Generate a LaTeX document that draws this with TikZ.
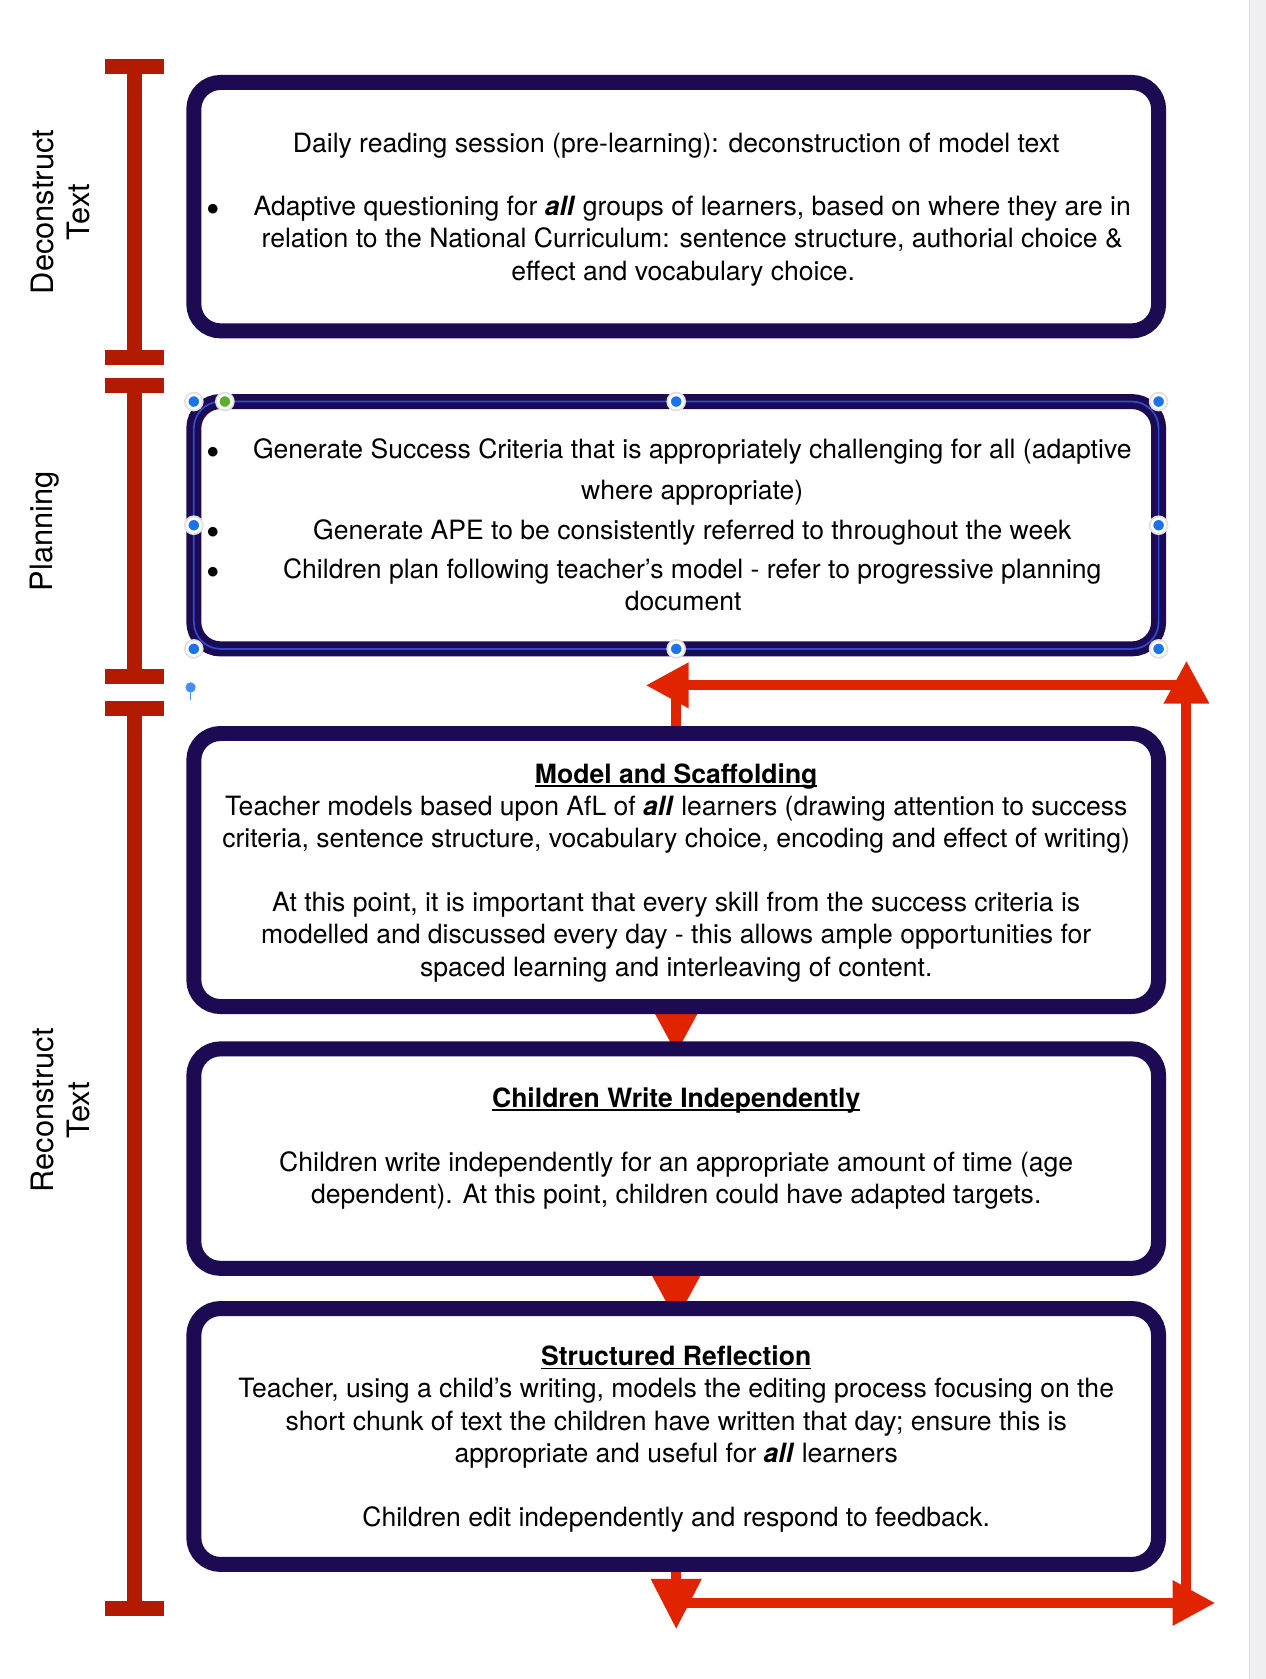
\documentclass[tikz,border=0pt]{standalone}
\usepackage{fontspec}
\setmainfont{TeX Gyre Heros}
\usetikzlibrary{arrows.meta,backgrounds}

\definecolor{boxnavy}{RGB}{28,11,82}
\definecolor{barred}{RGB}{178,26,2}
\definecolor{loopred}{RGB}{224,36,0}
\definecolor{handleblue}{RGB}{26,115,232}
\definecolor{selblue}{RGB}{45,75,208}
\definecolor{handlegreen}{RGB}{93,174,46}
\definecolor{sidegray}{RGB}{239,239,244}

\newcommand{\topstrut}{\rule{0pt}{18pt}}
\newcommand{\botstrut}[1][9pt]{\rule[-#1]{0pt}{#1}}
\newcommand{\ulbox}[1]{\leavevmode\setbox0\hbox{#1}\rlap{\vrule height -1pt depth 1.6pt width \wd0}\box0}
\newcommand{\bulletline}[1]{\makebox[15pt][l]{\hspace{-6pt}\raisebox{-3pt}{\fontsize{18}{15}\selectfont\textbullet}}\makebox[412pt]{#1}\hspace{8.5pt}}
\newcommand{\contline}[1]{\hspace{15pt}\makebox[412pt]{#1}\hspace{8.5pt}}
\newcommand{\allb}{\textbf{\textit{all}}}

\begin{document}
\begin{tikzpicture}[x=0.5pt,y=-0.5pt,
    stagebox/.style={draw=boxnavy, line width=7pt, rounded corners=12.5pt, fill=white,
      minimum width=450.5pt, inner sep=0pt, outer sep=0pt, align=center,
      font=\fontsize{12.4}{15}\selectfont},
    sidelabel/.style={rotate=90, align=center, font=\fontsize{14.4}{17}\selectfont},
    loopline/.style={draw=loopred, line width=4.7pt, -{Triangle[width=20pt,length=20pt]}},
    handle/.style={fill=handleblue, draw=white, line width=1.2pt}]
\useasboundingbox (0,0) rectangle (1182,1568);
\fill[sidegray] (1167,0) rectangle (1182,1568);
\draw[gray!30, line width=0.6pt] (1167,0) -- (1167,1568);

% stage brackets
\foreach \ytop/\ybot in {55.5/341, 353/639, 655/1509}{
  \draw[barred, line width=7pt] (126,\ytop) -- (126,\ybot);
  \fill[barred] (98,\ytop) rectangle (153,{\ytop+14});
  \fill[barred] (98,{\ybot-14}) rectangle (153,\ybot);
}
\node[sidelabel] (lDecon) at (56.5,198) {Deconstruct\\Text};
\node[sidelabel] (lPlan) at (41.5,496) {Planning};
\node[sidelabel] (lRecon) at (56.5,1037) {Reconstruct\\Text};

% boxes
\node[stagebox, minimum height=116pt] (b1) at (631.5,193) {\topstrut Daily reading session (pre-learning): deconstruction of model text\\[14.5pt]
  \bulletline{Adaptive questioning for \allb{} groups of learners, based on where they are in}\\
  \contline{relation to the National Curriculum: sentence structure, authorial choice \&}\\
  \contline{effect and vocabulary choice.}\botstrut};
\node[stagebox, minimum height=115.5pt] (b2) at (631.5,490.5) {\topstrut\bulletline{Generate Success Criteria that is appropriately challenging for all (adaptive}\\[4pt]
  \contline{where appropriate)}\\[3.5pt]
  \bulletline{Generate APE to be consistently referred to throughout the week}\\[3.5pt]
  \bulletline{Children plan following teacher’s model - refer to progressive planning}\\
  \contline{document}\botstrut};
\node[stagebox, minimum height=127.5pt] (b3) at (631.5,812.5) {\topstrut\textbf{\ulbox{Model and Scaffolding}}\\
  Teacher models based upon AfL of \allb{} learners (drawing attention to success\\
  criteria, sentence structure, vocabulary choice, encoding and effect of writing)\\[15pt]
  At this point, it is important that every skill from the success criteria is\\
  modelled and discussed every day - this allows ample opportunities for\\
  spaced learning and interleaving of content.\botstrut};
\node[stagebox, minimum height=102.5pt] (b4) at (631.5,1082) {\topstrut\textbf{\ulbox{Children Write Independently}}\\[15pt]
  Children write independently for an appropriate amount of time (age\\
  dependent). At this point, children could have adapted targets.\botstrut[21pt]};
\node[stagebox, minimum height=119.5pt] (b5) at (631.5,1341.5) {\topstrut\textbf{\ulbox{Structured Reflection}}\\
  Teacher, using a child’s writing, models the editing process focusing on the\\
  short chunk of text the children have written that day; ensure this is\\
  appropriate and useful for \allb{} learners\\[15pt]
  Children edit independently and respond to feedback.\botstrut};

% loop arrows
\coordinate (dnTip) at (631.5,1521.5);
\coordinate (botL) at (631.5,1497);
\coordinate (botR) at (1135,1497);
\coordinate (rtB) at (1108,1501);
\coordinate (rtT) at (1108,617);
\coordinate (topR) at (1108,640);
\coordinate (topL) at (603,640);
\coordinate (topJ) at (631.5,640);
\begin{scope}[on background layer]
  \draw[loopline, -{Triangle[width=21pt,length=21pt]}] (b3.south) -- ([yshift=-2.25pt]b4.north);
  \draw[loopline, -{Triangle[width=21pt,length=21pt]}] (b4.south) -- ([yshift=-5.85pt]b5.north);
  \draw[loopline, -{Triangle[width=22.5pt,length=23.5pt]}] (b5.south) -- (dnTip);
  \draw[loopline] (botL) -- (botR);
  \draw[loopline] (rtB) -- (rtT);
  \draw[loopline] (topR) -- (topL);
  \draw[loopline, -] (b3.north) -- (topJ);
\end{scope}

% selection handles
\draw[selblue, line width=0.8pt, rounded corners=12.5pt] (b2.north west) rectangle (b2.south east);
\foreach \h in {north west,north,north east,west,east,south west,south,south east}{
  \fill[black!12] (b2.\h) circle (4.6pt);
  \filldraw[handle] (b2.\h) circle (3.1pt);
}
\fill[black!12] (210,375) circle (4.6pt);
\filldraw[handle, fill=handlegreen] (210,375) circle (3.1pt);
\draw[handleblue!80, line width=0.7pt] (178,642) -- (178,654);
\fill[handleblue!80] (178,642) circle (2.4pt);
\end{tikzpicture}
\end{document}
